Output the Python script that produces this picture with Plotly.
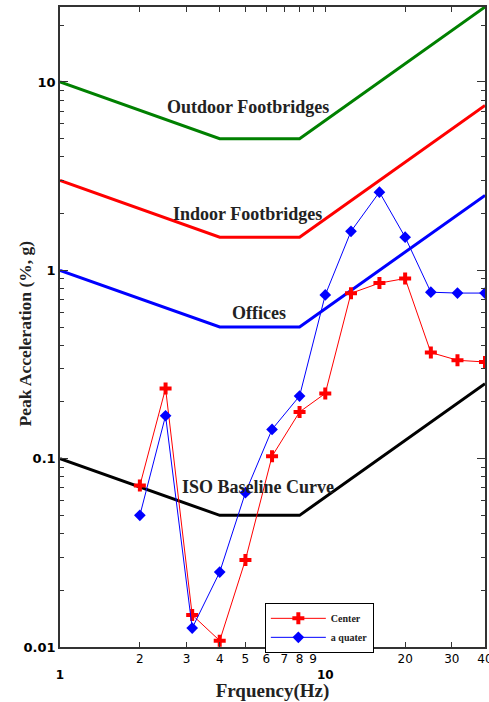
import numpy as np
import plotly.graph_objects as go

# Vibration criteria curves (ISO baseline and multiples), peak acceleration in %g
crit_freq = [1, 4, 8, 40]
iso_base = [0.1, 0.05, 0.05, 0.25]
offices = [1.0, 0.5, 0.5, 2.5]
indoor_fb = [3.0, 1.5, 1.5, 7.5]
outdoor_fb = [10.0, 5.0, 5.0, 25.0]

# One-third octave band centre frequencies (Hz)
band_freq = [2, 2.5, 3.15, 4, 5, 6.3, 8, 10, 12.5, 16, 20, 25, 31.5, 40]
# Measured peak accelerations (%g)
center = [0.072, 0.236, 0.0148, 0.0108, 0.029, 0.103, 0.177, 0.222, 0.755, 0.855, 0.905, 0.366, 0.333, 0.326]
quarter = [0.050, 0.169, 0.0126, 0.025, 0.066, 0.143, 0.215, 0.74, 1.61, 2.6, 1.5, 0.765, 0.757, 0.757]

x_tickvals = [1, 2, 3, 4, 5, 6, 7, 8, 9, 10, 20, 30, 40]
x_ticktext = ["<br><b>1</b>", "2", "3", "4", "5", "6", "7", "8", "9", "<br><b>10</b>", "20", "30", "40"]
y_tickvals = [0.01, 0.1, 1, 10]
y_ticktext = ["0.01", "0.1", "1", "10"]
y_minor = [m * 10.0 ** e for e in range(-2, 2) for m in range(2, 10)]

serif = "Liberation Serif"
sans = "DejaVu Sans"

fig = go.Figure()

for vals, col in [(outdoor_fb, "#008000"), (indoor_fb, "#ff0000"), (offices, "#0000ff"), (iso_base, "#000000")]:
    fig.add_trace(go.Scatter(x=crit_freq, y=vals, mode="lines",
                             line=dict(color=col, width=3), showlegend=False, hoverinfo="skip"))

fig.add_trace(go.Scatter(x=band_freq, y=center, mode="lines+markers", name="Center",
                         line=dict(color="#ff0000", width=1),
                         marker=dict(symbol="cross", size=10, color="#ff0000")))
fig.add_trace(go.Scatter(x=band_freq, y=quarter, mode="lines+markers", name="a quater",
                         line=dict(color="#0000ff", width=1),
                         marker=dict(symbol="diamond", size=9, color="#0000ff")))

labels = [
    ("Outdoor Footbridges", 0.709, 0.865),
    ("Indoor Footbridges", 0.705, 0.300),
    ("Offices", 0.750, -0.225),
    ("ISO Baseline Curve", 0.746, -1.150),
]
for txt, lx, ly in labels:
    fig.add_annotation(x=lx, y=ly, xref="x", yref="y", text=f"<b>{txt}</b>", showarrow=False,
                       font=dict(family=serif, size=18, color="#222222"))

# Vertical axis title
fig.add_annotation(x=-0.082, y=0.49, xref="paper", yref="paper", xanchor="center", yanchor="middle",
                   text="<b>Peak Acceleration (%, g)</b>", textangle=-90, showarrow=False,
                   font=dict(family=serif, size=17.5, color="#222222"))

fig.update_layout(
    width=489, height=702,
    margin=dict(l=60, r=4, t=7, b=55, autoexpand=False),
    paper_bgcolor="white", plot_bgcolor="white",
    showlegend=True,
    legend=dict(x=0.482, y=0.069, xanchor="left", yanchor="top",
                bgcolor="white", bordercolor="black", borderwidth=1,
                font=dict(family=serif, size=10, color="#222222", weight="bold"),
                itemwidth=55, tracegroupgap=0),
    xaxis=dict(type="log", range=[0, np.log10(40)], showgrid=False, zeroline=False,
               showline=True, linecolor="#333333", linewidth=1.5, mirror="ticks",
               ticks="inside", ticklen=5, tickcolor="#333333", tickangle=0,
               ticklabeloverflow="allow", automargin=False,
               tickvals=x_tickvals, ticktext=x_ticktext,
               tickfont=dict(family=sans, size=12, color="black"),
               title=dict(text="<b>Frquency(Hz)</b>", font=dict(family=serif, size=19, color="#222222"),
                          standoff=4)),
    yaxis=dict(type="log", range=[-2, np.log10(25)], showgrid=False, zeroline=False,
               showline=True, linecolor="#333333", linewidth=1.5, mirror="ticks",
               ticks="inside", ticklen=8, tickcolor="#333333", automargin=False,
               tickvals=y_tickvals, ticktext=y_ticktext,
               tickfont=dict(family=sans, size=13, color="black", weight="bold"),
               minor=dict(tickvals=y_minor, ticks="inside", ticklen=4, tickcolor="#333333")),
)

fig.write_html("out.html")
